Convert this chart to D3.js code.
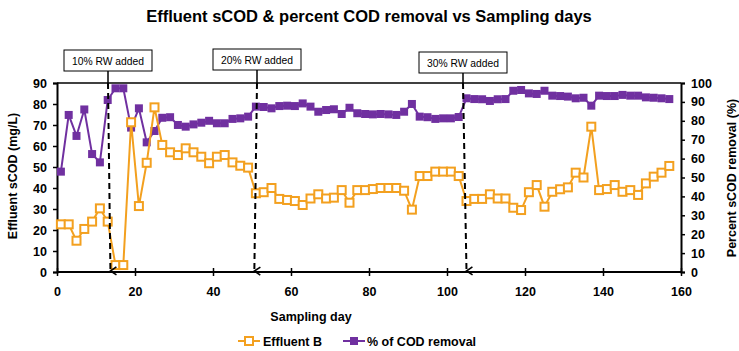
<!DOCTYPE html>
<html>
<head>
<meta charset="utf-8">
<script src="https://cdn.jsdelivr.net/npm/d3@7"></script>
<style>
  body { margin: 0; background: #fff; }
  svg { display: block; font-family: Arial, "Liberation Sans", sans-serif; }
</style>
</head>
<body>
<script>
// sampling days (every second day)
const days = d3.range(1, 158, 2)

// effluent sCOD, mg/L (left axis)
const effluentB = [
  22.7, 22.7, 14.9, 20.5, 24, 30.3, 24, 3.3, 3.3, 71.3,
  31.4, 52, 78.4, 60.5, 57, 55.7, 58.9, 57, 54.9, 51.8,
  54.9, 55.7, 52.2, 50.6, 49.7, 37.5, 38, 40, 34.8, 34.3,
  33.8, 31.9, 35, 37, 35, 35.4, 39, 33, 39, 39,
  39.5, 40, 40, 40, 38.7, 29.7, 45.7, 45.7, 47.8, 47.8,
  47.8, 45.7, 33.8, 34.8, 34.8, 37, 35, 35, 30.6, 29.5,
  38, 41.4, 31.1, 38.2, 39.4, 40.3, 47.3, 45, 69.2, 39,
  39.5, 41.4, 38.2, 39, 36.7, 42.2, 45.4, 47.3, 50.5
]

// % COD removal (right axis)
const codRemoval = [
  53.1, 83.1, 72, 86, 62.4, 58, 91, 97.2, 97.2, 76.4,
  86.6, 68.6, 74.6, 81.6, 81.9, 77.8, 76.9, 78.1, 79, 80,
  78.7, 78.7, 81, 81.3, 82.2, 87.5, 87.3, 86.6, 87.8, 88,
  87.8, 89.2, 87.5, 84.8, 85.7, 86.1, 83.6, 86.9, 84, 83.6,
  83.4, 83.6, 83.4, 83.1, 84.8, 88.9, 82.2, 81.9, 81, 81.3,
  81.3, 82, 91.9, 91.5, 91.4, 90.5, 91.4, 91.5, 95.9, 96.3,
  94.5, 94.2, 95.9, 93.3, 93.1, 92.8, 91.9, 92.2, 88, 93.3,
  93.1, 93.1, 93.7, 93.3, 93.3, 92.4, 92.2, 91.9, 91.5
]

const xTicks = [0, 20, 40, 60, 80, 100, 120, 140, 160]
const leftTicks = [0, 10, 20, 30, 40, 50, 60, 70, 80, 90]
const rightTicks = [0, 10, 20, 30, 40, 50, 60, 70, 80, 90, 100]

// RW additions: label + day the arrow points at
const events = ["10% RW added", "20% RW added", "30% RW added"]
const eventDays = [13.7, 50.6, 105]
const eventStemX = [108, 257, 463]
const eventBoxY = [50, 49, 52]

const W = 739, H = 351
const m = {left: 57, right: 681, top: 83, bottom: 272}
const orange = "#F3A01F", purple = "#7030A0"

const svg = d3.select("body").append("svg").attr("width", W).attr("height", H)

const x = d3.scaleLinear().domain([0, 160]).range([m.left, m.right])
const yL = d3.scaleLinear().domain([0, 90]).range([m.bottom, m.top])
const yR = d3.scaleLinear().domain([0, 100]).range([m.bottom, m.top])

// title
svg.append("text").attr("x", 369).attr("y", 22).attr("text-anchor", "middle")
  .attr("font-size", 16.5).attr("font-weight", "bold").text("Effluent sCOD & percent COD removal vs Sampling days")

// frame top
svg.append("line").attr("x1", m.left).attr("x2", m.right).attr("y1", m.top).attr("y2", m.top)
  .attr("stroke", "#000").attr("stroke-width", 1.5)

// axes
const ax = svg.append("g").attr("transform", `translate(0,${m.bottom})`)
  .call(d3.axisBottom(x).tickValues(xTicks).tickSize(4).tickPadding(11))
ax.selectAll(".tick line").attr("y1", -4)
const al = svg.append("g").attr("transform", `translate(${m.left},0)`)
  .call(d3.axisLeft(yL).tickValues(leftTicks).tickSize(4).tickPadding(6))
const ar = svg.append("g").attr("transform", `translate(${m.right},0)`)
  .call(d3.axisRight(yR).tickValues(rightTicks).tickSize(4).tickPadding(6))
for (const g of [ax, al, ar]) {
  g.selectAll("path").attr("stroke-width", 2)
  g.selectAll("line").attr("stroke-width", 1.5)
  g.selectAll("text").attr("font-size", 12.5).attr("font-weight", "bold")
    .attr("font-family", "Arial, 'Liberation Sans', sans-serif").attr("fill", "#000")
}
ax.select(".domain").remove()
svg.append("line").attr("x1", m.left).attr("x2", m.right).attr("y1", m.bottom).attr("y2", m.bottom)
  .attr("stroke", "#000").attr("stroke-width", 2)

// axis titles
svg.append("text").attr("x", 311).attr("y", 321).attr("text-anchor", "middle")
  .attr("font-size", 12.5).attr("font-weight", "bold").text("Sampling day")
svg.append("text").attr("transform", "translate(17,176) rotate(-90)").attr("text-anchor", "middle")
  .attr("font-size", 12.5).attr("font-weight", "bold").text("Effluent sCOD (mg/L)")
svg.append("text").attr("transform", "translate(736,178) rotate(-90)").attr("text-anchor", "middle")
  .attr("font-size", 12.5).attr("font-weight", "bold").text("Percent sCOD removal (%)")

// series
const lineL = d3.line().x((d, i) => x(days[i])).y(d => yL(d))
const lineR = d3.line().x((d, i) => x(days[i])).y(d => yR(d))

svg.append("path").datum(codRemoval).attr("d", lineR)
  .attr("fill", "none").attr("stroke", purple).attr("stroke-width", 2)
svg.selectAll(".pm").data(codRemoval).enter().append("rect").attr("class", "pm")
  .attr("x", (d, i) => x(days[i]) - 4).attr("y", d => yR(d) - 4)
  .attr("width", 8).attr("height", 8).attr("fill", purple)

svg.append("path").datum(effluentB).attr("d", lineL)
  .attr("fill", "none").attr("stroke", orange).attr("stroke-width", 2)
svg.selectAll(".om").data(effluentB).enter().append("rect").attr("class", "om")
  .attr("x", (d, i) => x(days[i]) - 4).attr("y", d => yL(d) - 4)
  .attr("width", 8).attr("height", 8).attr("fill", "#fff").attr("stroke", orange).attr("stroke-width", 2)

// RW addition markers
svg.append("defs").append("marker").attr("id", "arr").attr("viewBox", "0 0 10 10")
  .attr("refX", 5).attr("refY", 9).attr("markerWidth", 10).attr("markerHeight", 10)
  .attr("orient", "auto-start-reverse").attr("markerUnits", "userSpaceOnUse")
  .append("path").attr("d", "M1,3 L5,9 L9,3").attr("fill", "none").attr("stroke", "#000").attr("stroke-width", 1.6)

events.forEach((label, i) => {
  const cx = eventStemX[i]
  const by = eventBoxY[i]
  svg.append("rect").attr("x", cx - 44).attr("y", by).attr("width", 88).attr("height", 21)
    .attr("fill", "#fff").attr("stroke", "#000").attr("stroke-width", 1)
  svg.append("text").attr("x", cx).attr("y", by + 14.5).attr("text-anchor", "middle")
    .attr("font-size", 11.5).attr("font-family", "'Liberation Sans Narrow', 'Arial Narrow', sans-serif")
    .attr("textLength", 72).attr("lengthAdjust", "spacingAndGlyphs").text(label)
  svg.append("line").attr("x1", cx).attr("x2", cx).attr("y1", by + 21).attr("y2", m.top)
    .attr("stroke", "#000").attr("stroke-width", 1.5)
  svg.append("line").attr("x1", cx).attr("x2", x(eventDays[i])).attr("y1", m.top).attr("y2", m.bottom - 1)
    .attr("stroke", "#000").attr("stroke-width", 2).attr("stroke-dasharray", "6,4")
    .attr("marker-end", "url(#arr)")
})

// legend
const lg = svg.append("g").attr("transform", "translate(0,341)")
lg.append("line").attr("x1", 238).attr("x2", 260).attr("stroke", orange).attr("stroke-width", 2)
lg.append("rect").attr("x", 245).attr("y", -4).attr("width", 8).attr("height", 8)
  .attr("fill", "#fff").attr("stroke", orange).attr("stroke-width", 2)
lg.append("text").attr("x", 263).attr("y", 4.5).attr("font-size", 12.5).attr("font-weight", "bold").text("Effluent B")
lg.append("line").attr("x1", 343).attr("x2", 365).attr("stroke", purple).attr("stroke-width", 2)
lg.append("rect").attr("x", 350).attr("y", -4).attr("width", 8).attr("height", 8).attr("fill", purple)
lg.append("text").attr("x", 367).attr("y", 4.5).attr("font-size", 12.5).attr("font-weight", "bold").text("% of COD removal")
</script>
</body>
</html>
